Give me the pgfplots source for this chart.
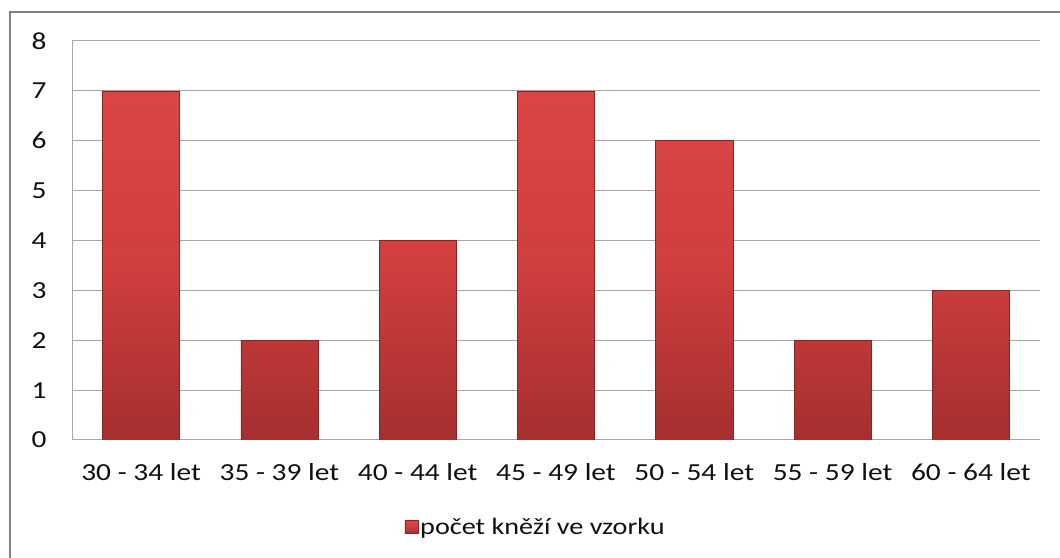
\documentclass[border=0pt]{standalone}
\usepackage{pgfplots}
\pgfplotsset{compat=1.18}
\usepackage{fontspec}
\setmainfont{Carlito}[FakeStretch=1.2]
\definecolor{bartop}{HTML}{DC4545}
\definecolor{barmid}{HTML}{D03E3E}
\definecolor{barbot}{HTML}{A52F2F}
\definecolor{baredge}{HTML}{8A2424}
\definecolor{gridc}{HTML}{A6A6A6}
\definecolor{txt}{HTML}{101010}
\begin{document}
\begin{tikzpicture}[x=1bp,y=1bp]
\path[use as bounding box] (0,0) rectangle (1060,558);
\draw[color=black!50, line width=1.5bp] (10,-20) -- (10,546) -- (1080,546);
\begin{axis}[
  at={(72bp,118bp)}, anchor=south west,
  scale only axis, width=968bp, height=399bp,
  ymin=0, ymax=8, ytick={0,...,8},
  xmin=-0.5, xmax=6.5, xtick=data,
  xticklabels={30 - 34 let,35 - 39 let,40 - 44 let,45 - 49 let,50 - 54 let,55 - 59 let,60 - 64 let},
  axis x line*=bottom, axis y line*=left,
  x axis line style={-, draw=gridc, line width=1bp},
  y axis line style={-, draw=gridc, line width=1bp},
  ymajorgrids, grid style={draw=gridc, line width=1bp},
  major tick length=0pt,
  tick label style={font=\fontsize{24.5bp}{28bp}\selectfont, text=txt},
  /pgf/number format/assume math mode=true,
  yticklabel style={xshift=-22bp},
  xticklabel style={yshift=-20bp},
  legend style={at={(0.479,-0.218)}, anchor=center, draw=none, fill=none,
    font=\fontsize{23.5bp}{28bp}\selectfont, text=txt, inner sep=0pt},
  legend image code/.code={\draw[baredge, line width=0.5bp, top color=bartop, bottom color=barbot, middle color=barmid] (0bp,-6.5bp) rectangle (13bp,6.5bp);},
  legend cell align=left,
]
\addplot[ybar, bar width=0.557, draw=baredge, line width=0.6bp, top color=bartop, bottom color=barbot, middle color=barmid]
  coordinates {(0,7) (1,2) (2,4) (3,7) (4,6) (5,2) (6,3)};
\addlegendentry{počet kněží ve vzorku}
\end{axis}
\end{tikzpicture}
\end{document}
